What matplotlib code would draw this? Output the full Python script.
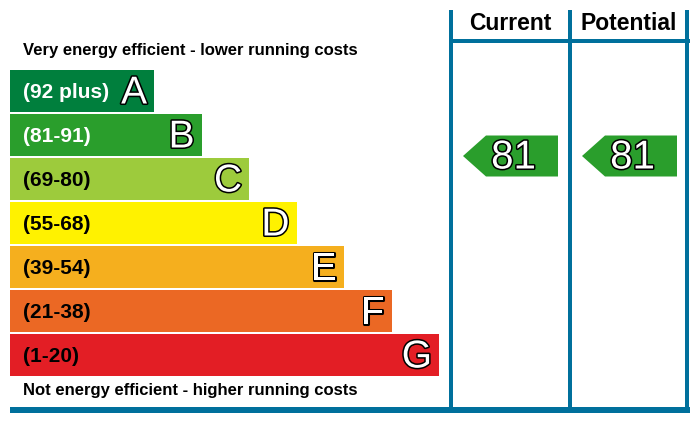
import matplotlib.pyplot as plt
import matplotlib.patheffects as pe
from matplotlib.patches import Rectangle, Polygon

# Données du graphique EPC
bandes = ['A', 'B', 'C', 'D', 'E', 'F', 'G']
plages = ['(92 plus)', '(81-91)', '(69-80)', '(55-68)', '(39-54)', '(21-38)', '(1-20)']
bornes_basses = [92, 81, 69, 55, 39, 21, 1]
bornes_hautes = [100, 91, 80, 68, 54, 38, 20]
couleurs = ['#007f3d', '#2a9e2c', '#9dcb3c', '#fff200', '#f5af1e', '#eb6824', '#e31e25']
couleurs_texte = ['white', 'white', 'black', 'black', 'black', 'black', 'black']
colonnes = ['Current', 'Potential']
valeurs = [81, 81]

BLEU = '#00709c'
plt.rcParams['font.family'] = ['Liberation Sans', 'DejaVu Sans']

fig = plt.figure(figsize=(6.97, 4.22), dpi=100)
ax = fig.add_axes([0, 0, 1, 1])
ax.set_xlim(0, 697)
ax.set_ylim(422, 0)
ax.axis('off')

contour = [pe.withStroke(linewidth=2.2, foreground='black')]

# Barres
y0, h, pas = 70, 42, 44
for i, b in enumerate(bandes):
    y = y0 + i * pas
    droite = 154 + i * 47.5
    ax.add_patch(Rectangle((10, y), droite - 10, h, color=couleurs[i], lw=0))
    ax.text(23, y + h / 2 + 1, plages[i], color=couleurs_texte[i], fontsize=15,
            fontweight='bold', va='center', ha='left')
    ax.text(droite - 7, y + h / 2 + 2.5, b, color='white', fontsize=28,
            va='center', ha='right', path_effects=contour)

ax.text(23, 50, 'Very energy efficient - lower running costs', fontsize=12,
        fontweight='bold', va='center', ha='left')
ax.text(23, 390, 'Not energy efficient - higher running costs', fontsize=12,
        fontweight='bold', va='center', ha='left')

# Cadre bleu
for x in [448.5, 567.5, 684.5]:
    ax.add_patch(Rectangle((x, 10), 4.5, 400, color=BLEU, lw=0))
ax.add_patch(Rectangle((448.5, 39), 241, 4, color=BLEU, lw=0))
ax.add_patch(Rectangle((10, 407), 680, 6, color=BLEU, lw=0))

# En-têtes et flèches
centres = [510, 629]
gauches = [463, 582]
for j, nom in enumerate(colonnes):
    ax.text(centres[j], 23, nom, fontsize=16.5, fontweight='bold',
            ha='center', va='center')
    v = valeurs[j]
    k = next(i for i in range(len(bandes)) if bornes_basses[i] <= v <= bornes_hautes[i])
    yc = y0 + k * pas + (bornes_hautes[k] - v + 0.5) / (bornes_hautes[k] - bornes_basses[k] + 1) * pas
    g = gauches[j]
    fl = Polygon([[g, yc], [g + 23, yc - 20.5], [g + 95, yc - 20.5],
                  [g + 95, yc + 20.5], [g + 23, yc + 20.5]], closed=True,
                 color=couleurs[k], lw=0)
    ax.add_patch(fl)
    ax.text(g + 73, yc + 1.5, str(v), color='white', fontsize=29, ha='right',
            va='center', path_effects=contour)

fig.savefig('out.png', dpi=100)
